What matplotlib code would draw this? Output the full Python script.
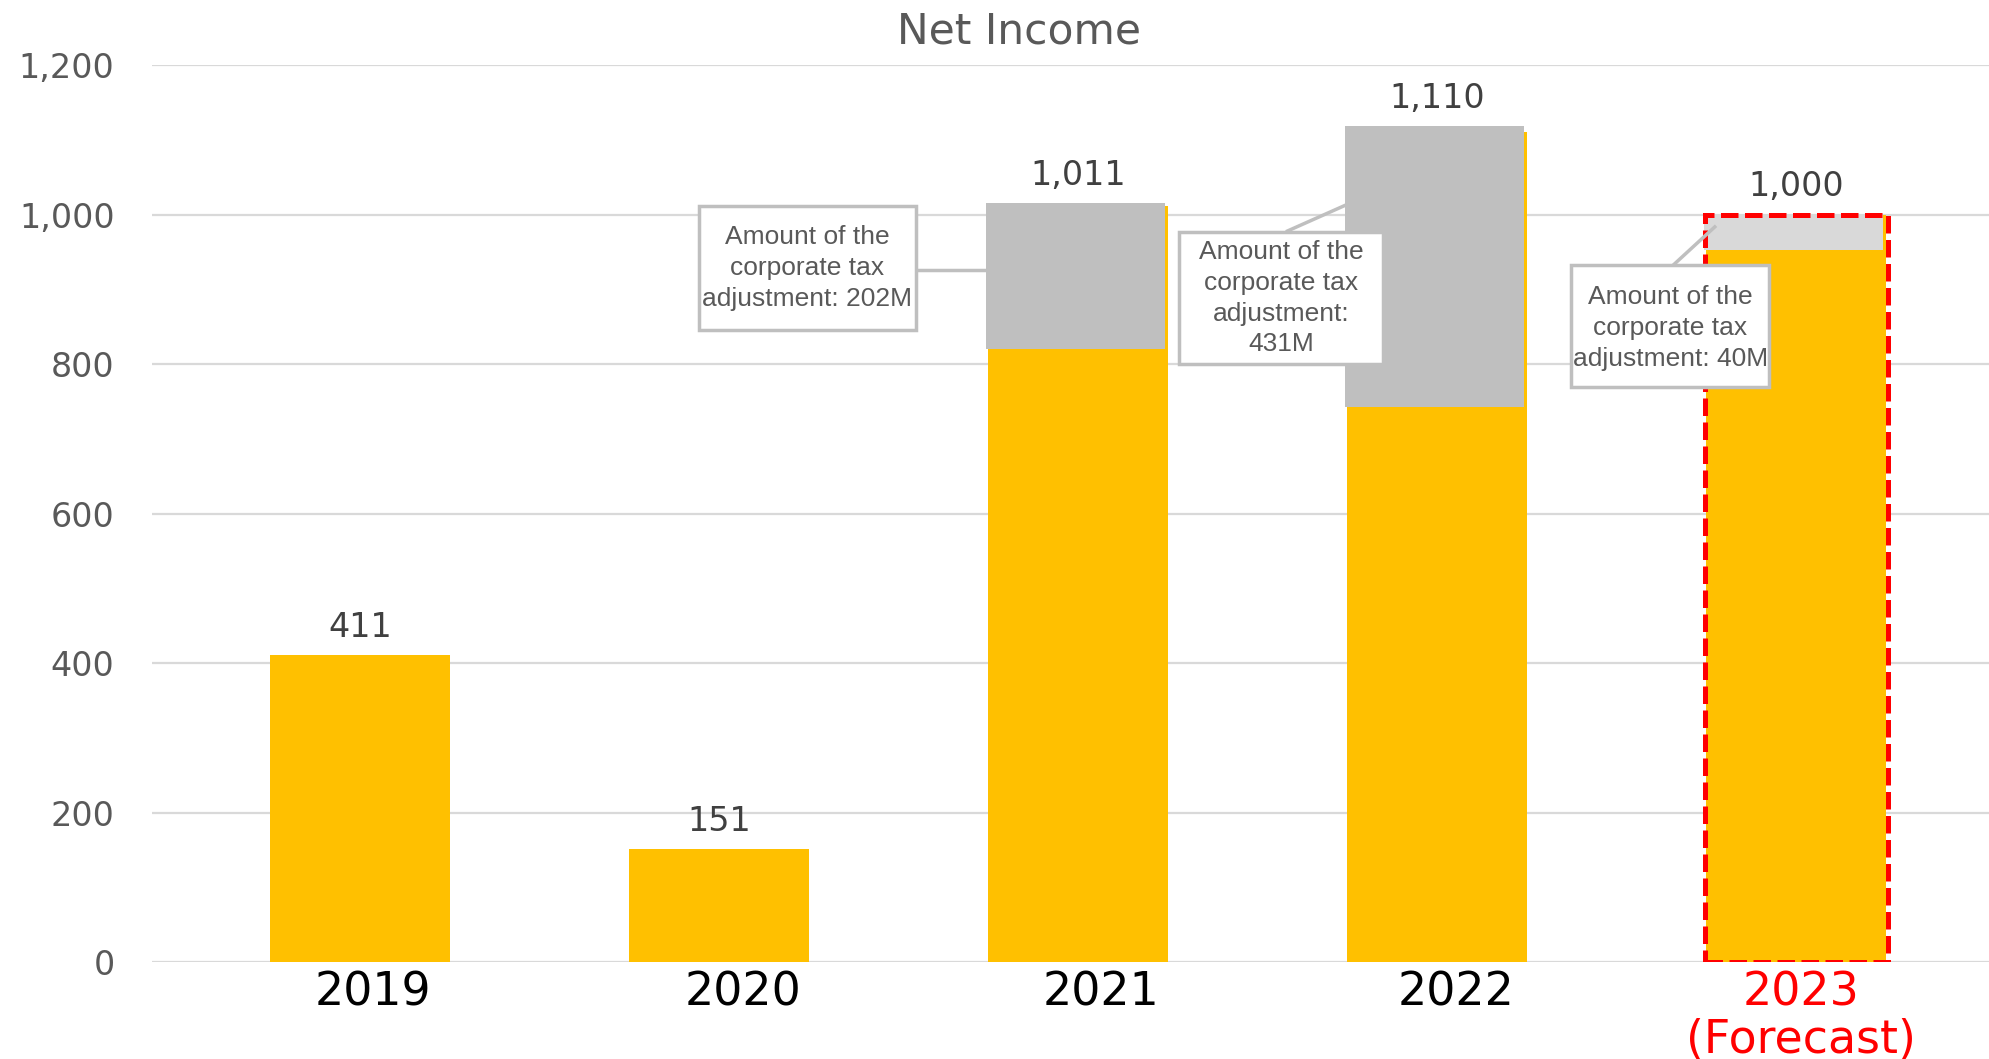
import numpy as np
import matplotlib
matplotlib.use('Agg')
import matplotlib.pyplot as plt
from matplotlib.patches import Rectangle
from matplotlib.transforms import ScaledTranslation

# data
years = ['2019', '2020', '2021', '2022', '2023\n(Forecast)']
net_income = [411, 151, 1011, 1110, 1000]
labels = ['411', '151', '1,011', '1,110', '1,000']
# tax adjustment overlay (bottom, top) as drawn
adj_bottom = [0, 0, 820, 742, 952]
adj_top = [0, 0, 1015, 1118, 1000]
adj_text = ['', '',
            'Amount of the\ncorporate tax\nadjustment: 202M',
            'Amount of the\ncorporate tax\nadjustment:\n431M',
            'Amount of the\ncorporate tax\nadjustment: 40M']

yellow = '#FFC000'
gray = '#BFBFBF'
light = '#D9D9D9'

plt.rcParams['font.family'] = ['DejaVu Sans']

fig = plt.figure(figsize=(19.9, 10.59), dpi=100)
ax = fig.add_axes([0.0764, 0.0916, 0.9236, 0.847])

x = np.arange(len(years))
w = 0.5

ax.bar(x, net_income, width=w, color=yellow, zorder=2)

adj_h = [t - b for b, t in zip(adj_bottom, adj_top)]
adj_col = [gray, gray, gray, gray, light]
ax.bar(x[2:] - 0.007, adj_h[2:], bottom=adj_bottom[2:], width=w,
       color=adj_col[2:], zorder=3)

# forecast frame
ax.bar(x[4], net_income[4], width=w + 0.01, fill=False, edgecolor='#FF0000',
       linewidth=3.6, linestyle=(0, (3.5, 1.3)), zorder=4)

for i in range(len(x)):
    top = max(net_income[i], adj_top[i])
    ax.annotate(labels[i], (x[i], top), xytext=(0, 8), textcoords='offset points',
                ha='center', va='bottom', fontsize=24, color='#404040')

# callouts: box (x0, x1, y0, y1), text centre, leader line
boxes = [None, None, (0.944, 1.549, 845, 1011), (2.281, 2.850, 800, 977), (3.373, 3.925, 769, 932)]
text_y = [None, None, 928, 888, 848]
leaders = [None, None, ((1.549, 1.747), (926, 926)),
           ((2.579, 2.752), (977, 1014)),
           ((3.657, 3.777), (932, 985))]
for i in range(2, 5):
    x0, x1, y0, y1 = boxes[i]
    ax.add_patch(Rectangle((x0, y0), x1 - x0, y1 - y0, facecolor='white',
                           edgecolor=gray, linewidth=2.5, zorder=5))
    ax.text((x0 + x1) / 2, text_y[i], adj_text[i], ha='center', va='center',
            fontsize=19, color='#595959', family='Liberation Sans',
            linespacing=1.36, zorder=6)
    ax.plot(leaders[i][0], leaders[i][1], color=gray, linewidth=2.5, zorder=5,
            solid_capstyle='butt')

ax.set_xlim(-0.579, 4.54)
ax.set_ylim(0, 1200)
ax.set_yticks(range(0, 1201, 200))
ax.set_yticklabels(['{:,}'.format(v) for v in range(0, 1201, 200)])
ax.set_xticks(x)
ax.set_xticklabels(years)
ax.tick_params(axis='y', length=0, pad=27, labelsize=24, labelcolor='#595959')
ax.tick_params(axis='x', length=0, pad=6, labelsize=33, labelcolor='black')
tl = ax.get_xticklabels()
tl[4].set_color('#FF0000')
tl[4].set_linespacing(1.05)
shift = [13, 24, 23, 19, 5]
for lab, s in zip(tl, shift):
    lab.set_transform(lab.get_transform() + ScaledTranslation(s / 100, 0, fig.dpi_scale_trans))

for s in ax.spines.values():
    s.set_visible(False)
ax.grid(axis='y', color=light, linewidth=1.6, zorder=0)
ax.set_axisbelow(True)

fig.text(0.512, 0.970, 'Net Income', ha='center', va='center', fontsize=30.5, color='#595959')

plt.savefig('out.png', dpi=100)
